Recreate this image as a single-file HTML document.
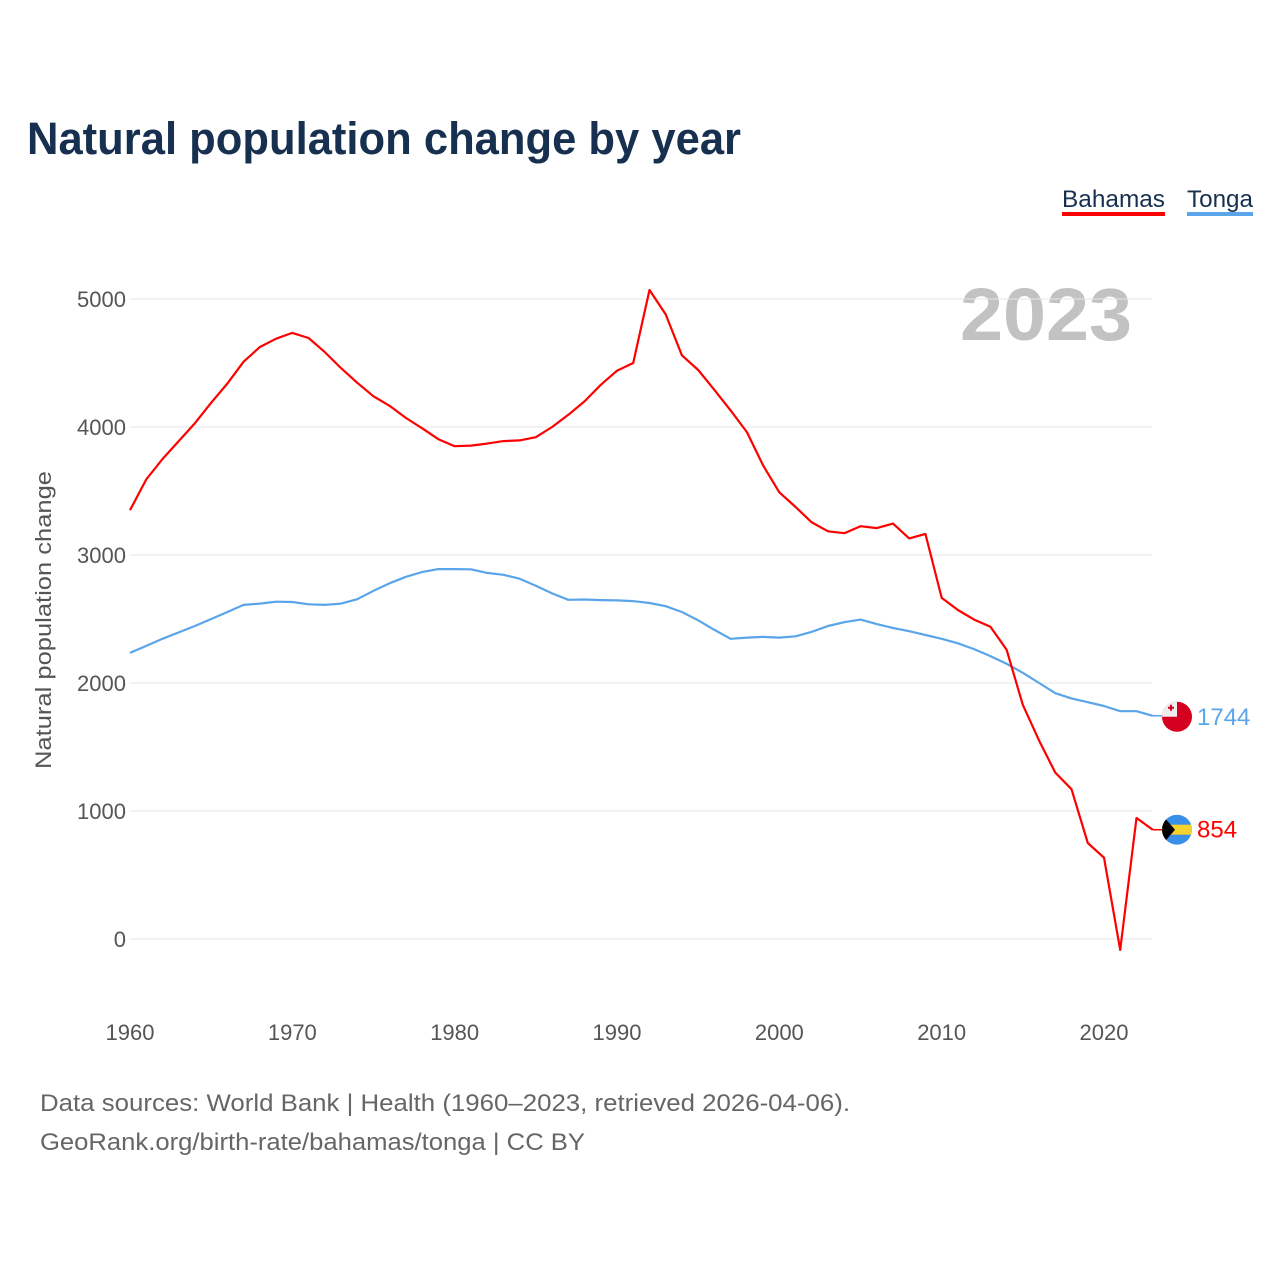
<!DOCTYPE html>
<html><head><meta charset="utf-8"><style>
html,body{margin:0;padding:0;background:#fff;}
svg{display:block;font-family:"Liberation Sans",sans-serif;}
</style></head><body>
<svg id="chart" width="1280" height="1280" viewBox="0 0 1280 1280">
<text x="27" y="154" font-size="45" font-weight="bold" fill="#17304f" textLength="714" lengthAdjust="spacingAndGlyphs">Natural population change by year</text>
<g>
<text x="1062" y="207" font-size="24" fill="#17304f" textLength="103" lengthAdjust="spacingAndGlyphs">Bahamas</text>
<rect x="1062" y="212" width="103" height="4" fill="#ff0000"/>
<text x="1187" y="207" font-size="24" fill="#17304f" textLength="66" lengthAdjust="spacingAndGlyphs">Tonga</text>
<rect x="1187" y="212" width="66" height="4" fill="#5aa5ea"/>
</g>
<text x="1132" y="340" font-size="74" font-weight="bold" fill="#c2c2c2" text-anchor="end" textLength="172" lengthAdjust="spacingAndGlyphs">2023</text>
<text transform="translate(51,620) rotate(-90)" font-size="22" fill="#555" text-anchor="middle" textLength="298" lengthAdjust="spacingAndGlyphs">Natural population change</text>
<g id="grid"></g><g id="lines"></g><g id="ends"></g>
<text x="40" y="1111" font-size="24" fill="#666" textLength="810" lengthAdjust="spacingAndGlyphs">Data sources: World Bank | Health (1960–2023, retrieved 2026-04-06).</text>
<text x="40" y="1150" font-size="24" fill="#666" textLength="545" lengthAdjust="spacingAndGlyphs">GeoRank.org/birth-rate/bahamas/tonga | CC BY</text>
</svg>
<script>
const years = [];
for (let y = 1960; y <= 2023; y++) years.push(y);
const bahamas = [3350,3590,3750,3890,4030,4190,4340,4510,4625,4690,4735,4695,4585,4460,4345,4240,4165,4070,3990,3905,3850,3855,3870,3890,3895,3920,4000,4095,4200,4330,4440,4500,5070,4880,4560,4445,4290,4130,3960,3700,3490,3375,3255,3185,3170,3225,3210,3245,3130,3165,2665,2570,2495,2440,2260,1830,1550,1300,1170,750,635,-85,945,854];
const tonga = [2235,2290,2345,2395,2445,2500,2555,2610,2620,2635,2633,2615,2610,2620,2655,2720,2780,2830,2867,2890,2890,2888,2860,2845,2815,2760,2700,2650,2652,2648,2645,2640,2625,2600,2555,2490,2415,2345,2355,2360,2355,2365,2400,2445,2475,2495,2460,2430,2405,2375,2345,2310,2265,2210,2150,2080,2000,1920,1880,1850,1820,1780,1780,1744];
const yTicks = [0,1000,2000,3000,4000,5000];
const xTicks = [1960,1970,1980,1990,2000,2010,2020];
const NS = "http://www.w3.org/2000/svg";
function xs(v){return 130 + (v-1960)*(974/60);}
function ys(v){return 939 - v*0.128;}
function mk(tag, attrs, parent){const e=document.createElementNS(NS,tag);for(const k in attrs)e.setAttribute(k,attrs[k]);parent.appendChild(e);return e;}
const grid=document.getElementById('grid');
yTicks.forEach(t=>{
  const l=mk('line',{x1:130,x2:1152,y1:ys(t),y2:ys(t),stroke:'#e6e6e6','stroke-width':1},grid);
  
  
  const tx=mk('text',{x:126,y:ys(t)+8,'font-size':22,fill:'#555','text-anchor':'end'},grid);
  tx.textContent=t;
  
  
});
xTicks.forEach(t=>{
  const tx=mk('text',{x:xs(t),y:1040,'font-size':22,fill:'#555','text-anchor':'middle'},grid);
  tx.textContent=t;
  
  
});
const lines=document.getElementById('lines');
function path(vals,color,name){
  const d=vals.map((v,i)=>(i?'L':'M')+xs(years[i]).toFixed(1)+','+ys(v).toFixed(1)).join('');
  const p=mk('path',{d:d,fill:'none',stroke:color,'stroke-width':2.2,'stroke-linejoin':'round'},lines);
  
  
}
path(tonga,'#5aa5ea','line-tonga');
path(bahamas,'#ff0000','line-bahamas');
const ends=document.getElementById('ends');
const lastT=tonga[tonga.length-1], lastB=bahamas[bahamas.length-1];
const cx=1177;
// Tonga flag
const yT=ys(lastT)+1;
mk('line',{x1:xs(2023),x2:cx,y1:ys(lastT),y2:ys(lastT),stroke:'#5aa5ea','stroke-width':1.5},ends);
const ft=mk('g',{},ends);


mk('circle',{cx:cx,cy:yT,r:15,fill:'#d5001f'},ft);
mk('path',{d:`M${cx-15},${yT} A15,15 0 0,1 ${cx},${yT-15} L${cx},${yT} Z`,fill:'#eeeeee'},ft);
mk('rect',{x:cx-9,y:yT-10,width:6,height:2,fill:'#d5001f'},ft);
mk('rect',{x:cx-7,y:yT-12,width:2,height:6,fill:'#d5001f'},ft);
const lt=mk('text',{x:1197,y:ys(lastT)+9,'font-size':24,fill:'#5aa5ea'},ends);
lt.textContent=lastT;


// Bahamas flag
const yB=ys(lastB);
mk('line',{x1:xs(2023),x2:cx,y1:yB,y2:yB,stroke:'#ff0000','stroke-width':1.5},ends);
const fb=mk('g',{},ends);


const clip=mk('clipPath',{id:'cb'},fb);
mk('circle',{cx:cx,cy:yB,r:15},clip);
const gb=mk('g',{'clip-path':'url(#cb)'},fb);
mk('rect',{x:cx-15,y:yB-15,width:30,height:30,fill:'#3a8fe8'},gb);
mk('rect',{x:cx-15,y:yB-5,width:30,height:10,fill:'#f7d12c'},gb);
mk('path',{d:`M${cx-15},${yB-15} L${cx-2},${yB} L${cx-15},${yB+15} Z`,fill:'#000'},gb);
const lb=mk('text',{x:1197,y:yB+8,'font-size':24,fill:'#ff0000'},ends);
lb.textContent=lastB;


</script>
</body></html>
